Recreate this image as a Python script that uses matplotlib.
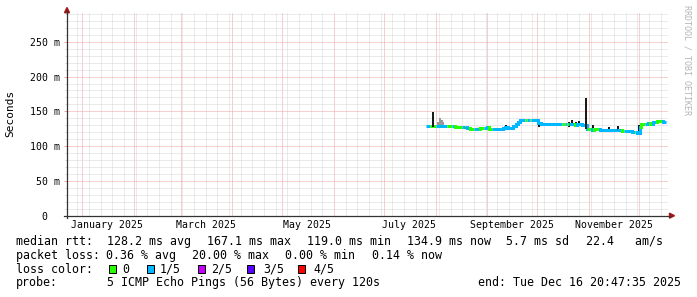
import numpy as np
import pandas as pd
import matplotlib
matplotlib.use("Agg")
import matplotlib.pyplot as plt
import matplotlib.dates as mdates
import matplotlib.transforms as mtransforms
from matplotlib.lines import Line2D
from matplotlib.patches import Rectangle, Polygon

W, H = 697, 297
BASE = pd.Timestamp("2025-01-01")
MONO = "DejaVu Sans Mono"

# ---------- data ----------
# median rtt as steps: day offset from 2025-01-01, value in ms, pings lost (of 5)
step_day = [206, 208.5, 210.5, 212, 219, 222, 223.5, 228, 229.5, 231, 232.5, 235,
            238.5, 241, 243, 244, 246, 252.5, 253.5, 255.5, 258.5, 260, 261.5, 262.5,
            265.5, 267, 268.5, 269, 273.5, 275, 288, 289.5, 291, 292, 295.5, 297, 300,
            302.5, 303, 305.5, 307, 310.5, 320.5, 323.5, 325, 329.5, 331.5, 332.5,
            334.5, 335, 337.5, 339.5, 340.5, 342.5, 344.5, 348.5]
step_ms = [128.5, 128.5, 129, 128.5, 128.5, 128.5, 128, 128, 128, 125.5, 124.5, 125,
           125.5, 126.5, 128, 124.5, 124, 126.5, 128, 126.5, 129, 132, 134, 137.5,
           137.5, 137.5, 137.5, 137.5, 133, 132, 132, 132, 131.5, 132, 131, 132, 130,
           124, 124, 123, 124, 123, 122.5, 122, 122, 121, 121, 119.5,
           128, 132, 132, 133, 132, 134, 136, 135]
step_loss = [1, 0, 0, 1, 0, 1, 0, 1, 0, 1, 0, 1,
             0, 1, 1, 0, 1, 1, 1, 1, 1, 1, 1, 1,
             0, 1, 0, 1, 1, 1, 0, 1, 0, 1, 0, 1, 1,
             1, 0, 1, 0, 1, 1, 0, 1, 1, 0, 1,
             1, 0, 1, 1, 0, 1, 0, 1]
end_day = 350.0

# smoke spikes: day offset, low ms, high ms, shade (0 black .. 1 white)
spike_day = [210.5, 213.5, 214.5, 215.5, 216.5, 229.5, 254, 274, 292, 294, 296, 298,
             300, 302, 306.5, 316, 321.5, 334.2]
spike_lo = [128, 128, 128, 128, 128, 124, 124, 128, 128, 129, 127, 129, 128, 124, 124,
            122, 122, 120]
spike_hi = [149.5, 135, 140, 137, 134, 128, 130, 133, 134, 137, 135, 136, 133, 169, 130,
            128, 129, 131]
spike_shade = [0.1, 0.6, 0.6, 0.6, 0.6, 0.1, 0.1, 0.1, 0.1, 0.1, 0.1, 0.1, 0.1, 0.1,
               0.1, 0.1, 0.1, 0.1]

y_max = 291.4
label_months = [1, 3, 5, 7, 9, 11]

loss_colors = ["#26ff00", "#00b8ff", "#c800ff", "#5a00ff", "#ff0000"]
loss_labels = ["0", "1/5", "2/5", "3/5", "4/5"]

row_rtt = [(16, "median rtt:"), (107, "128.2 ms avg"), (207, "167.1 ms max"),
           (307, "119.0 ms min"), (407, "134.9 ms now"), (506.5, "5.7 ms sd"),
           (586.5, "22.4   am/s")]
row_loss = [(16, "packet loss:"), (106, "0.36 % avg"), (192, "20.00 % max"),
            (285, "0.00 % min"), (372, "0.14 % now")]
row_probe = [(16, "probe:"), (107, "5 ICMP Echo Pings (56 Bytes) every 120s"),
             (478, "end: Tue Dec 16 20:47:35 2025")]
box_x = [108.5, 146.5, 198, 246.5, 297.5]
label_x = [122.5, 160, 211, 263, 313]


def fx(px):
    return px / W


def fy(py):
    return 1 - py / H


def d2n(day):
    return mdates.date2num(BASE + pd.Timedelta(days=day))


fig = plt.figure(figsize=(W / 100, H / 100), dpi=100)
fig.patch.set_facecolor("white")
ax = fig.add_axes([fx(67), fy(215.7), (668 - 67) / W, (215.7 - 13) / H])
ax.set_xlim(d2n(-9.18), d2n(351.35))
ax.set_ylim(0, y_max)

# ---------- grid (1px dotted) ----------
ax.xaxis.set_major_locator(mdates.MonthLocator())
ax.xaxis.set_minor_locator(mdates.WeekdayLocator(byweekday=mdates.SU))
ax.yaxis.set_major_locator(plt.MultipleLocator(50))
ax.yaxis.set_minor_locator(plt.MultipleLocator(10))
ax.grid(which="major", color="#f0a0a0", linestyle=(0, (1, 1)), linewidth=0.72)
ax.grid(which="minor", color="#d6d6d6", linestyle=(0, (1, 1)), linewidth=0.72)
ax.set_axisbelow(True)
for s in ax.spines.values():
    s.set_visible(False)
ax.tick_params(axis="x", which="both", length=0, labelbottom=False)
ax.tick_params(axis="y", which="major", length=2.2, width=0.72, color="#f0a0a0",
               pad=2.9, labelsize=7.1)
ax.tick_params(axis="y", which="minor", length=1.4, width=0.72, color="#d6d6d6")
ax.yaxis.set_major_formatter(plt.FuncFormatter(
    lambda v, p: "0  " if v == 0 else f"{int(v)} m"))
for t in ax.get_yticklabels():
    t.set_fontfamily(MONO)

# month labels, centred mid-month
trans = mtransforms.blended_transform_factory(ax.transData, fig.transFigure)
for m in label_months:
    d = pd.Timestamp(2025, m, 16)
    ax.text(mdates.date2num(d), fy(224.5), d.strftime("%B %Y"), transform=trans,
            ha="center", va="center", fontsize=7.1, fontfamily=MONO, clip_on=False)

# ---------- smoke ----------
for d, lo, hi, sh in zip(spike_day, spike_lo, spike_hi, spike_shade):
    ax.vlines(d2n(d), lo, hi, colors=str(sh), linewidth=1.44, zorder=2)

# ---------- median line coloured by loss ----------
n = len(step_day)
for i in range(n):
    x0 = d2n(step_day[i])
    x1 = d2n(step_day[i + 1]) if i + 1 < n else d2n(end_day)
    c = loss_colors[step_loss[i]]
    ax.plot([x0, x1], [step_ms[i], step_ms[i]], color=c, linewidth=2.16,
            solid_capstyle="butt", zorder=3)
    if i + 1 < n:
        ax.plot([x1, x1], [step_ms[i], step_ms[i + 1]],
                color=loss_colors[step_loss[i + 1]], linewidth=2.16,
                solid_capstyle="projecting", zorder=3)
# big spike drawn over the line
for d, lo, hi, sh in zip(spike_day, spike_lo, spike_hi, spike_shade):
    if hi - lo > 15:
        ax.vlines(d2n(d), lo, hi, colors=str(sh), linewidth=1.44, zorder=4)

# ---------- axis lines and arrows ----------
axis_col = "#333333"
arrow_col = "#a01818"
fig.add_artist(Line2D([fx(67), fx(67)], [fy(218), fy(11)], color=axis_col, lw=0.9))
fig.add_artist(Line2D([fx(64), fx(670)], [fy(215.7), fy(215.7)], color=axis_col, lw=0.9))
fig.add_artist(Polygon([[fx(64.5), fy(12.7)], [fx(69.5), fy(12.7)], [fx(67), fy(7.5)]],
                       closed=True, color=arrow_col, transform=fig.transFigure))
fig.add_artist(Polygon([[fx(669.5), fy(213.2)], [fx(669.5), fy(218.2)], [fx(674.5), fy(215.7)]],
                       closed=True, color=arrow_col, transform=fig.transFigure))

# ---------- labels ----------
fig.text(fx(10.5), fy(113.5), "Seconds", rotation=90, ha="center", va="center",
         fontsize=8, fontfamily=MONO)
fig.text(fx(687.5), fy(5), "RRDTOOL / TOBI OETIKER", rotation=270, ha="center", va="top",
         fontsize=6, fontfamily=MONO, color="#b4b4b4")

# ---------- legend rows ----------
for rows, y in ((row_rtt, 241.5), (row_loss, 255.2), (row_probe, 282.8)):
    for x, s in rows:
        fig.text(fx(x), fy(y), s, ha="left", va="center", fontsize=8.4, fontfamily=MONO)
fig.text(fx(16), fy(269.2), "loss color:", ha="left", va="center", fontsize=8.4,
         fontfamily=MONO)
for bx, lx, c, lab in zip(box_x, label_x, loss_colors, loss_labels):
    fig.add_artist(Rectangle((fx(bx), fy(272.7)), 7 / W, 8 / H, facecolor=c,
                             edgecolor="black", linewidth=0.72, transform=fig.transFigure))
    fig.text(fx(lx), fy(269.2), lab, ha="left", va="center", fontsize=8.4, fontfamily=MONO)

fig.savefig("out.png", dpi=100, facecolor="white")
